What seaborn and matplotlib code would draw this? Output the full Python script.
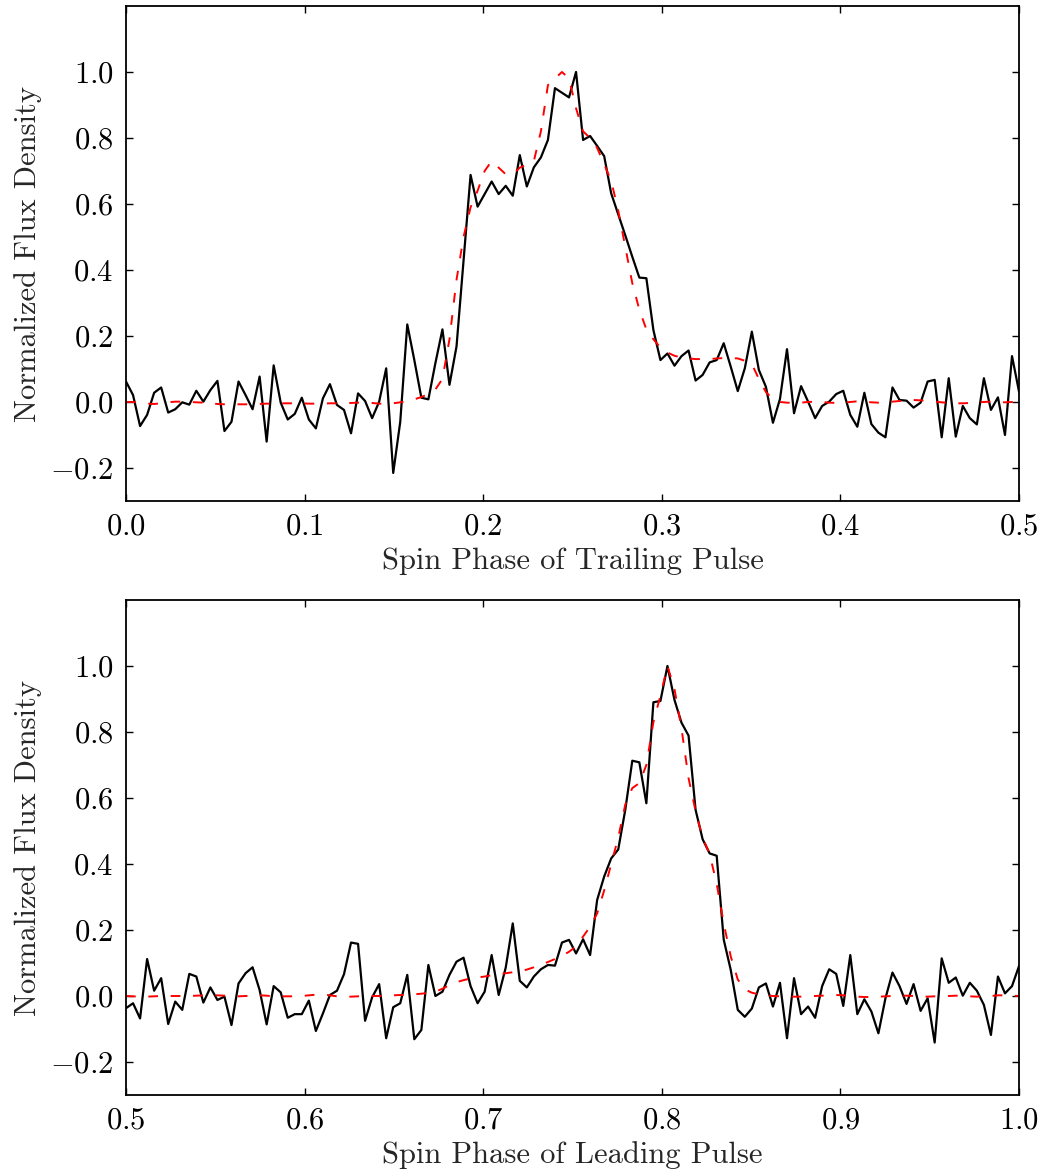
import numpy as np
import pandas as pd
import seaborn as sns
import matplotlib
matplotlib.use("Agg")
import matplotlib.pyplot as plt

# Pulsprofile (schwarz: Daten, rot: Modell)
trailing_flux = [
    0.062, 0.021, -0.073, -0.039, 0.028, 0.044, -0.032, -0.022, -0.001, -0.008,
    0.034, 0.001, 0.036, 0.064, -0.088, -0.060, 0.062, 0.021, -0.022, 0.077,
    -0.120, 0.111, -0.002, -0.053, -0.036, 0.013, -0.053, -0.080, 0.011, 0.054,
    -0.009, -0.024, -0.095, 0.026, 0.003, -0.049, 0.001, 0.102, -0.215, -0.060,
    0.235, 0.127, 0.013, 0.008, 0.118, 0.220, 0.052, 0.168, 0.428, 0.688,
    0.592, 0.630, 0.668, 0.630, 0.655, 0.625, 0.748, 0.653, 0.711, 0.741,
    0.794, 0.951, 0.937, 0.923, 1.000, 0.794, 0.806, 0.776, 0.745, 0.632,
    0.569, 0.505, 0.440, 0.377, 0.375, 0.218, 0.127, 0.147, 0.110, 0.139,
    0.156, 0.065, 0.082, 0.120, 0.127, 0.178, 0.107, 0.033, 0.102, 0.213,
    0.097, 0.046, -0.063, 0.009, 0.160, -0.034, 0.048, 0.001, -0.049, -0.012,
    0.001, 0.024, 0.034, -0.039, -0.075, 0.028, -0.067, -0.093, -0.107, 0.044,
    0.006, 0.004, -0.017, -0.002, 0.062, 0.067, -0.107, 0.072, -0.105, -0.012,
    -0.049, -0.068, 0.072, -0.024, 0.014, -0.100, 0.139, 0.031,
]
trailing_model = [
    0.0, 0.0, -0.003, -0.005, -0.006, -0.004, -0.001, 0.001, 0.001, 0.0,
    -0.001, -0.002, -0.004, -0.006, -0.007, -0.007, -0.007, -0.007, -0.007, -0.006,
    -0.005, -0.005, -0.004, -0.004, -0.004, -0.004, -0.005, -0.005, -0.005, -0.004,
    -0.004, -0.004, -0.003, -0.002, -0.002, -0.003, -0.005, -0.006, -0.004, -0.001,
    0.002, 0.008, 0.015, 0.024, 0.038, 0.07, 0.19, 0.37, 0.50, 0.59,
    0.64, 0.70, 0.73, 0.71, 0.69, 0.69, 0.71, 0.72, 0.73, 0.82,
    0.96, 0.98, 1.0, 0.98, 0.89, 0.82, 0.80, 0.77, 0.72, 0.67,
    0.58, 0.47, 0.36, 0.28, 0.22, 0.19, 0.165, 0.15, 0.14, 0.135,
    0.132, 0.13, 0.13, 0.13, 0.132, 0.133, 0.133, 0.132, 0.125, 0.115,
    0.07, 0.03, 0.008, 0.0, -0.002, -0.003, -0.002, 0.0, 0.001, 0.0,
    -0.002, -0.003, -0.002, 0.0, 0.002, 0.001, -0.001, -0.002, -0.001, 0.001,
    0.003, 0.005, 0.006, 0.005, 0.003, 0.001, -0.001, -0.003, -0.004, -0.004,
    -0.003, -0.001, 0.0, 0.001, 0.0, -0.001, 0.0, 0.0,
]
leading_flux = [
    -0.037, -0.022, -0.068, 0.112, 0.016, 0.054, -0.085, -0.017, -0.042, 0.067,
    0.059, -0.020, 0.026, -0.012, -0.002, -0.088, 0.038, 0.069, 0.087, 0.018,
    -0.086, 0.030, 0.011, -0.066, -0.055, -0.055, -0.014, -0.106, -0.053, 0.003,
    0.016, 0.066, 0.162, 0.158, -0.075, -0.004, 0.036, -0.128, -0.034, -0.022,
    0.064, -0.131, -0.103, 0.094, 0.0, 0.013, 0.064, 0.104, 0.116, 0.030,
    -0.022, 0.013, 0.124, 0.003, 0.086, 0.220, 0.046, 0.026, 0.059, 0.081,
    0.094, 0.092, 0.162, 0.170, 0.129, 0.172, 0.124, 0.291, 0.362, 0.417,
    0.444, 0.564, 0.713, 0.708, 0.584, 0.890, 0.894, 1.000, 0.897, 0.828,
    0.789, 0.564, 0.475, 0.432, 0.425, 0.171, 0.079, -0.042, -0.063, -0.038,
    0.026, 0.038, -0.032, 0.040, -0.128, 0.054, -0.055, -0.032, -0.066, 0.030,
    0.081, 0.067, -0.030, 0.124, -0.055, -0.010, -0.047, -0.113, -0.007, 0.071,
    0.030, -0.024, 0.036, -0.045, -0.007, -0.141, 0.114, 0.040, 0.056, 0.001,
    0.040, 0.016, -0.027, -0.118, 0.059, 0.008, 0.030, 0.091,
]
leading_model = [
    0.0, -0.001, -0.002, -0.002, -0.001, 0.0, 0.0, 0.0, 0.0, 0.0,
    0.001, 0.002, 0.002, 0.002, 0.001, 0.0, -0.001, 0.0, 0.001, 0.002,
    0.001, -0.001, -0.001, -0.001, -0.001, 0.0, 0.002, 0.004, 0.004, 0.002,
    -0.001, -0.002, -0.002, -0.001, -0.001, 0.0, 0.0, 0.001, 0.002, 0.003,
    0.003, 0.005, 0.007, 0.009, 0.013, 0.022, 0.033, 0.042, 0.048, 0.053,
    0.056, 0.059, 0.063, 0.066, 0.069, 0.072, 0.075, 0.08, 0.087, 0.095,
    0.103, 0.112, 0.122, 0.134, 0.15, 0.18, 0.21, 0.25, 0.32, 0.40,
    0.48, 0.58, 0.63, 0.645, 0.70, 0.83, 0.91, 1.0, 0.93, 0.81,
    0.66, 0.56, 0.48, 0.43, 0.34, 0.22, 0.12, 0.05, 0.02, 0.01,
    0.005, 0.002, 0.0, -0.001, -0.002, -0.002, -0.002, -0.001, 0.0, 0.001,
    0.002, 0.003, 0.002, 0.0, -0.002, -0.003, -0.003, -0.002, -0.001, 0.0,
    0.001, 0.001, 0.0, -0.001, -0.002, -0.001, 0.0, 0.0, 0.001, 0.0,
    -0.001, -0.002, -0.001, 0.0, 0.002, 0.002, 0.001, 0.0,
]

panels = [
    ("Spin Phase of Trailing Pulse", 0.0, trailing_flux, trailing_model),
    ("Spin Phase of Leading Pulse", 0.5, leading_flux, leading_model),
]

sns.set_style("ticks")
plt.rcParams.update({
    "font.family": ["cmr10", "DejaVu Serif"],
    "mathtext.fontset": "cm",
    "axes.formatter.use_mathtext": True,
    "axes.unicode_minus": True,
    "font.size": 22,
    "axes.linewidth": 1.3,
    "axes.edgecolor": "black",
    "xtick.direction": "in",
    "ytick.direction": "in",
    "xtick.top": True,
    "ytick.right": True,
    "xtick.color": "black",
    "ytick.color": "black",
})

fig = plt.figure(figsize=(10.44, 11.7), dpi=100)
# Achsenpositionen in Bildanteilen (links, unten, Breite, Höhe)
boxes = [(0.1207, 0.5718, 0.8554, 0.4231), (0.1207, 0.0641, 0.8554, 0.4231)]

for (xlab, start, flux, model), box in zip(panels, boxes):
    ax = fig.add_axes(box)
    df = pd.DataFrame({
        "phase": np.linspace(start, start + 0.5, len(flux)),
        "flux": flux,
        "model": model,
    })
    sns.lineplot(data=df, x="phase", y="flux", ax=ax, color="black",
                 lw=1.6, estimator=None, sort=False)
    sns.lineplot(data=df, x="phase", y="model", ax=ax, color="red",
                 lw=1.4, estimator=None, sort=False,
                 linestyle=(0, (5, 6.5)))
    ax.set_xlim(start, start + 0.5)
    ax.set_ylim(-0.3, 1.2)
    ax.set_xticks(np.round(np.arange(start, start + 0.51, 0.1), 1))
    ax.set_yticks([-0.2, 0.0, 0.2, 0.4, 0.6, 0.8, 1.0])
    ax.tick_params(which="major", length=5, width=1.0, pad=9, labelsize=22)
    ax.set_xlabel(xlab, fontsize=22)
    ax.set_ylabel("Normalized Flux Density", fontsize=22)
    ax.xaxis.set_label_coords(0.5, -0.093)
    ax.yaxis.set_label_coords(-0.094, 0.5)
    for s in ax.spines.values():
        s.set_visible(True)

fig.savefig("out.png", dpi=100)
